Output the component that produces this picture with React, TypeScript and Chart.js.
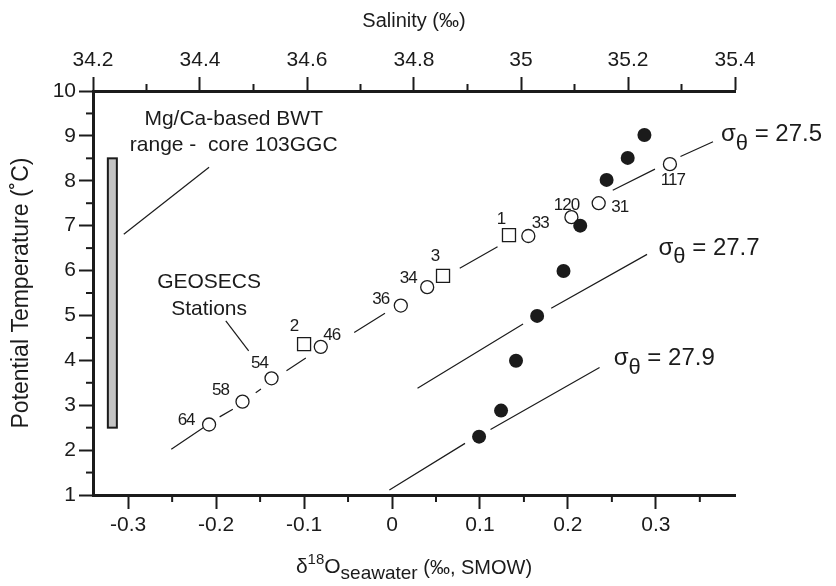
import React, { useEffect, useRef } from "react";
import { Chart, registerables } from "chart.js";

Chart.register(...registerables);

const FONT = '"Liberation Sans", Arial, Helvetica, sans-serif';
const INK = "#1b1b1b";

// Axis ranges and tick values
const d18oRange = [-0.34, 0.39];
const salinityRange = [34.2, 35.4];
const tempRange = [1, 10];
const d18oTicks = [-0.3, -0.2, -0.1, 0, 0.1, 0.2, 0.3];
const d18oMinorTicks = [-0.25, -0.15, -0.05, 0.05, 0.15, 0.25, 0.35];
const salinityTicks = [34.2, 34.4, 34.6, 34.8, 35, 35.2, 35.4];
const salinityMinorTicks = [34.3, 34.5, 34.7, 34.9, 35.1, 35.3];
const tempTicks = [1, 2, 3, 4, 5, 6, 7, 8, 9, 10];
const tempMinorTicks = [1.5, 2.5, 3.5, 4.5, 5.5, 6.5, 7.5, 8.5, 9.5];

// GEOSECS stations (open circles)
const stationIds = ["64", "58", "54", "46", "36", "34", "33", "120", "31", "117"];
const stationD18O = [-0.208, -0.17, -0.137, -0.081, 0.01, 0.04, 0.155, 0.204, 0.235, 0.316];
const stationTemp = [2.57, 3.08, 3.6, 4.3, 5.22, 5.63, 6.77, 7.19, 7.5, 8.37];

// GEOSECS stations (open squares)
const squareIds = ["2", "3", "1"];
const squareD18O = [-0.1, 0.058, 0.133];
const squareTemp = [4.36, 5.88, 6.79];

// Filled circles
const coreD18O = [0.099, 0.124, 0.141, 0.165, 0.195, 0.214, 0.244, 0.268, 0.287];
const coreTemp = [2.3, 2.88, 3.99, 4.99, 5.99, 7.0, 8.02, 8.51, 9.02];

// Isopycnal traces (null separates drawn pieces)
const sigma275D18O = [-0.251, -0.213, null, -0.196, -0.181, null, -0.155, -0.149, null, -0.12, -0.098, null, -0.043, -0.008, null, 0.077, 0.12, null, 0.251, 0.299, null, 0.328, 0.365];
const sigma275Temp = [2.02, 2.52, null, 2.74, 2.91, null, 3.28, 3.36, null, 3.77, 4.05, null, 4.62, 5.05, null, 6.05, 6.53, null, 7.79, 8.26, null, 8.54, 8.87];
const sigma277D18O = [0.029, 0.149, null, 0.181, 0.29];
const sigma277Temp = [3.38, 4.81, null, 5.16, 6.36];
const sigma279D18O = [-0.003, 0.083, null, 0.112, 0.236];
const sigma279Temp = [1.11, 2.15, null, 2.46, 3.84];

// Mg/Ca-based bottom water temperature range
const bwtD18O = -0.318;
const bwtTempRange = [2.5, 8.5];

// Leader lines for the annotations
const bwtLeaderD18O = [-0.305, -0.208];
const bwtLeaderTemp = [6.81, 8.3];
const stationLeaderD18O = [-0.189, -0.163];
const stationLeaderTemp = [4.88, 4.21];

// Label placement (pixel offsets from the marker centre)
const labelOffsets: Record<string, [number, number]> = {
  "64": [-23, -4], "58": [-22, -11], "54": [-12, -15], "46": [11, -12], "36": [-20, -6],
  "34": [-19, -9], "33": [12, -13], "120": [-5, -12], "31": [21, 4], "117": [3, 16],
  "2": [-10, -18], "3": [-8, -20], "1": [-8, -16],
};

// Text anchors in data units
const sigmaLabels = [
  { d18o: 0.374, temp: 9.03, text: "27.5" },
  { d18o: 0.303, temp: 6.5, text: "27.7" },
  { d18o: 0.252, temp: 4.04, text: "27.9" },
];
const bwtText = { d18o: -0.18, lines: ["Mg/Ca-based BWT", "range -  core 103GGC"], temps: [9.37, 8.8] };
const stationText = { d18o: -0.208, lines: ["GEOSECS", "Stations"], temps: [5.74, 5.13] };

const toPoints = (xs: (number | null)[], ys: (number | null)[]) =>
  xs.map((v, i) => ({ x: v === null ? NaN : v, y: ys[i] === null ? NaN : (ys[i] as number) }));

const fmt = (v: number) => String(Math.round(v * 100) / 100);

type Run = { t: string; size: number; dy: number };
function drawRuns(ctx: CanvasRenderingContext2D, cx: number, cy: number, runs: Run[]) {
  let total = 0;
  const widths = runs.map((r) => {
    ctx.font = `${r.size}px ${FONT}`;
    const w = ctx.measureText(r.t).width;
    total += w;
    return w;
  });
  let x = cx - total / 2;
  ctx.textAlign = "left";
  runs.forEach((r, i) => {
    ctx.font = `${r.size}px ${FONT}`;
    ctx.fillText(r.t, x, cy + r.dy);
    x += widths[i];
  });
}

const decorPlugin = {
  id: "paleoDecor",
  beforeDatasetsDraw(chart: any) {
    const { ctx, scales } = chart;
    const { x, y } = scales;
    const cx = x.getPixelForValue(bwtD18O);
    const top = y.getPixelForValue(bwtTempRange[1]);
    const bot = y.getPixelForValue(bwtTempRange[0]);
    ctx.save();
    ctx.fillStyle = "#c4c4c4";
    ctx.strokeStyle = INK;
    ctx.lineWidth = 2;
    ctx.fillRect(cx - 4.5, top, 9, bot - top);
    ctx.strokeRect(cx - 4.5, top, 9, bot - top);
    ctx.restore();
  },
  afterDraw(chart: any) {
    const { ctx, scales, chartArea } = chart;
    const { x, x2, y } = scales;
    const { left, right, top, bottom } = chartArea;
    ctx.save();
    ctx.strokeStyle = INK;
    ctx.fillStyle = INK;
    ctx.lineWidth = 2;
    const seg = (a: number, b: number, c: number, d: number) => {
      ctx.beginPath();
      ctx.moveTo(a, b);
      ctx.lineTo(c, d);
      ctx.stroke();
    };
    d18oMinorTicks.forEach((v) => {
      const p = x.getPixelForValue(v);
      seg(p, bottom, p, bottom + 7);
    });
    salinityMinorTicks.forEach((v) => {
      const p = x2.getPixelForValue(v);
      seg(p, top, p, top - 7);
    });
    tempMinorTicks.forEach((v) => {
      const p = y.getPixelForValue(v);
      seg(left, p, left - 7, p);
    });

    // Axis titles
    ctx.textBaseline = "middle";
    ctx.textAlign = "center";
    ctx.font = `20px ${FONT}`;
    ctx.fillText("Salinity (‰)", (left + right) / 2, 21);
    ctx.save();
    ctx.font = `23px ${FONT}`;
    ctx.translate(22, (top + bottom) / 2);
    ctx.rotate(-Math.PI / 2);
    ctx.fillText("Potential Temperature (˚C)", 0, 0);
    ctx.restore();
    drawRuns(ctx, (left + right) / 2, 567, [
      { t: "δ", size: 21, dy: 0 },
      { t: "18", size: 15, dy: -7 },
      { t: "O", size: 21, dy: 0 },
      { t: "seawater", size: 19, dy: 7 },
      { t: " (‰, SMOW)", size: 20, dy: 1 },
    ]);

    // Annotations
    ctx.textAlign = "center";
    ctx.font = `21px ${FONT}`;
    [bwtText, stationText].forEach((b) => {
      const px = x.getPixelForValue(b.d18o);
      b.lines.forEach((line, i) => ctx.fillText(line, px, y.getPixelForValue(b.temps[i])));
    });

    // Station numbers
    ctx.font = `17px ${FONT}`;
    (ctx as any).letterSpacing = "-1px";
    const label = (id: string, v: number, t: number) => {
      const [dx, dy] = labelOffsets[id];
      ctx.fillText(id, x.getPixelForValue(v) + dx, y.getPixelForValue(t) + dy);
    };
    stationIds.forEach((id, i) => label(id, stationD18O[i], stationTemp[i]));
    squareIds.forEach((id, i) => label(id, squareD18O[i], squareTemp[i]));
    (ctx as any).letterSpacing = "0px";

    // Isopycnal labels
    sigmaLabels.forEach((s) => {
      const px = x.getPixelForValue(s.d18o);
      const py = y.getPixelForValue(s.temp);
      ctx.textAlign = "left";
      ctx.font = `24px ${FONT}`;
      ctx.fillText("σ", px, py);
      const w1 = ctx.measureText("σ").width;
      ctx.font = `22px ${FONT}`;
      ctx.fillText("θ", px + w1, py + 9);
      const w2 = ctx.measureText("θ").width;
      ctx.font = `24px ${FONT}`;
      ctx.fillText(" = " + s.text, px + w1 + w2, py);
    });
    ctx.restore();
  },
};

const lineStyle = {
  showLine: true,
  pointRadius: 0,
  borderColor: INK,
  borderWidth: 1.2,
  spanGaps: false,
  order: 2,
};

export default function App() {
  const ref = useRef<HTMLCanvasElement>(null);
  useEffect(() => {
    if (!ref.current) return;
    const tickFont = { family: FONT, size: 21 };
    const grid = {
      display: true,
      drawOnChartArea: false,
      drawTicks: true,
      tickLength: 14,
      tickWidth: 2,
      tickColor: INK,
      color: INK,
    };
    const border = { display: true, color: INK, width: 3 };
    const chart = new Chart(ref.current, {
      type: "scatter",
      data: {
        datasets: [
          {
            data: toPoints(coreD18O, coreTemp),
            pointStyle: "circle",
            pointRadius: 7,
            backgroundColor: INK,
            borderColor: INK,
            borderWidth: 0,
            order: 0,
          },
          {
            data: toPoints(stationD18O, stationTemp),
            pointStyle: "circle",
            pointRadius: 6.5,
            backgroundColor: "#ffffff",
            borderColor: INK,
            borderWidth: 1.3,
            order: 1,
          },
          {
            data: toPoints(squareD18O, squareTemp),
            pointStyle: "rect",
            pointRadius: 9.2,
            backgroundColor: "#ffffff",
            borderColor: INK,
            borderWidth: 1.3,
            order: 1,
          },
          { data: toPoints(sigma275D18O, sigma275Temp), ...lineStyle },
          { data: toPoints(sigma277D18O, sigma277Temp), ...lineStyle },
          { data: toPoints(sigma279D18O, sigma279Temp), ...lineStyle },
          { data: toPoints(bwtLeaderD18O, bwtLeaderTemp), ...lineStyle },
          { data: toPoints(stationLeaderD18O, stationLeaderTemp), ...lineStyle },
        ] as any,
      },
      options: {
        responsive: false,
        devicePixelRatio: 1,
        animation: false,
        events: [],
        layout: { padding: { right: 101 } },
        plugins: { legend: { display: false }, tooltip: { enabled: false } },
        scales: {
          x: {
            type: "linear",
            position: "bottom",
            min: d18oRange[0],
            max: d18oRange[1],
            afterBuildTicks: (s: any) => {
              s.ticks = d18oTicks.map((value) => ({ value }));
            },
            afterFit: (s: any) => {
              s.height = 91;
            },
            ticks: { font: tickFont, color: INK, padding: 4, maxRotation: 0, callback: (v: any) => fmt(v) },
            grid,
            border,
          },
          x2: {
            type: "linear",
            position: "top",
            min: salinityRange[0],
            max: salinityRange[1],
            afterBuildTicks: (s: any) => {
              s.ticks = salinityTicks.map((value) => ({ value }));
            },
            afterFit: (s: any) => {
              s.height = 91;
            },
            ticks: { font: tickFont, color: INK, padding: 4, maxRotation: 0, callback: (v: any) => fmt(v) },
            grid,
            border,
          },
          y: {
            type: "linear",
            position: "left",
            min: tempRange[0],
            max: tempRange[1],
            afterBuildTicks: (s: any) => {
              s.ticks = tempTicks.map((value) => ({ value }));
            },
            afterFit: (s: any) => {
              s.width = 93;
            },
            ticks: { font: tickFont, color: INK, padding: 3, callback: (v: any) => fmt(v) },
            grid,
            border,
          },
        },
      } as any,
      plugins: [decorPlugin],
    });
    return () => chart.destroy();
  }, []);
  return (
    <div style={{ position: "absolute", left: 0, top: 0, width: 836, height: 586, background: "#fff" }}>
      <canvas ref={ref} width={836} height={586} style={{ display: "block" }} />
    </div>
  );
}
